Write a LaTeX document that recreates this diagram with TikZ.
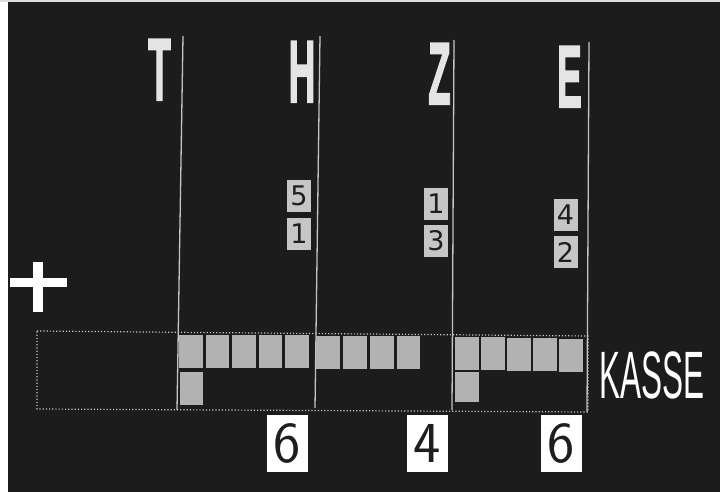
\documentclass[tikz,border=0pt]{standalone}
\usepackage{fontspec}
\newfontfamily\lib{Liberation Sans}
\newfontfamily\libheavy{Liberation Sans}[BoldFeatures={FakeBold=2.5}]
\newfontfamily\dej{DejaVu Sans}
\definecolor{bg}{HTML}{1C1C1C}
\definecolor{letc}{HTML}{E4E4E4}
\definecolor{linec}{HTML}{C4C4C4}
\definecolor{sqgray}{HTML}{B2B2B2}
\definecolor{chipgray}{HTML}{C6C6C6}
\definecolor{ink}{HTML}{1E1E1E}
\tikzset{
  bigletter/.style={inner sep=0pt, anchor=base, text=letc, font=\libheavy\bfseries\fontsize{88}{88}\selectfont, xscale=0.42},
  colline/.style={draw=linec, line width=1.3pt},
  dotline/.style={draw=linec, line width=1.2pt, dotted},
  sq/.style={fill=sqgray, inner sep=0pt, minimum width=23.5pt, minimum height=33pt, anchor=north west},
  chip/.style={fill=chipgray, inner sep=0pt, minimum width=24pt, minimum height=32pt, text=ink, font=\dej\fontsize{27}{27}\selectfont},
  resbox/.style={fill=white, inner sep=0pt, minimum width=41pt, minimum height=57pt, text=ink, font=\sffamily\fontsize{58}{58}\selectfont},
  kasselbl/.style={inner sep=0pt, anchor=base, text=white, font=\lib\fontsize{67}{67}\selectfont, xscale=0.47},
}
\begin{document}
\begin{tikzpicture}[x=1pt,y=-1pt]
\useasboundingbox (0,0) rectangle (720,492);
\fill[bg] (0,0) rectangle (720,492);
\fill[white] (0,0) rectangle (8,492);
\fill[white!85!bg] (0,0) rectangle (720,2);

% column headings
\node[bigletter] (T) at (159.5,100) {T};
\node[bigletter] (H) at (302,102) {H};
\node[bigletter] (Z) at (439.5,104) {Z};
\node[bigletter] (E) at (569.5,107) {E};

% column lines
\coordinate (Ttop) at (183,36);  \coordinate (Tbot) at (177,410);
\coordinate (Htop) at (320,36);  \coordinate (Hbot) at (315,408);
\coordinate (Ztop) at (454,40);  \coordinate (Zbot) at (452,410);
\coordinate (Etop) at (589,42);  \coordinate (Ebot) at (587,412);
\draw[colline] (Ttop) -- (Tbot);
\draw[colline] (Htop) -- (Hbot);
\draw[colline] (Ztop) -- (Zbot);
\draw[colline] (Etop) -- (Ebot);

% number chips
\node[chip] (h5) at (299,196) {5};
\node[chip] (h1) at (299,233.5) {1};
\node[chip] (z1) at (436,203.5) {1};
\node[chip] (z3) at (436,241) {3};
\node[chip] (e4) at (565.5,214.5) {4};
\node[chip] (e2) at (565.5,252) {2};

% plus sign
\fill[white] (10,278) rectangle (67,287);
\fill[white] (33,262) rectangle (43,312);

% KASSE box
\coordinate (bTL) at (37,331);
\coordinate (bTR) at (588,336);
\coordinate (bBR) at (588,412);
\coordinate (bBL) at (37,409);
\draw[dotline] (bTL) -- (bTR) -- (bBR) -- (bBL) -- cycle;

% H squares
\node[sq] (hs1) at (179,335) {};
\node[sq] (hs2) at (205.5,335) {};
\node[sq] (hs3) at (232,335) {};
\node[sq] (hs4) at (258.5,335) {};
\node[sq] (hs5) at (285,335) {};
\node[sq] (hs6) at (179.5,372) {};
% Z squares
\node[sq] (zs1) at (316,336) {};
\node[sq] (zs2) at (343,336) {};
\node[sq] (zs3) at (370,336) {};
\node[sq] (zs4) at (396.5,336) {};
% E squares
\node[sq] (es1) at (455,337) {};
\node[sq] (es2) at (481,337) {};
\node[sq] (es3) at (507,337.5) {};
\node[sq] (es4) at (533,338) {};
\node[sq] (es5) at (559,338.5) {};
\node[sq, minimum height=30pt] (es6) at (455,372) {};

\node[kasselbl] (kasse) at (652,398) {KASSE};

% results
\node[resbox] (r1) at (287,443) {6};
\node[resbox] (r2) at (427.5,443.5) {4};
\node[resbox] (r3) at (561.5,443.5) {6};
\end{tikzpicture}
\end{document}
